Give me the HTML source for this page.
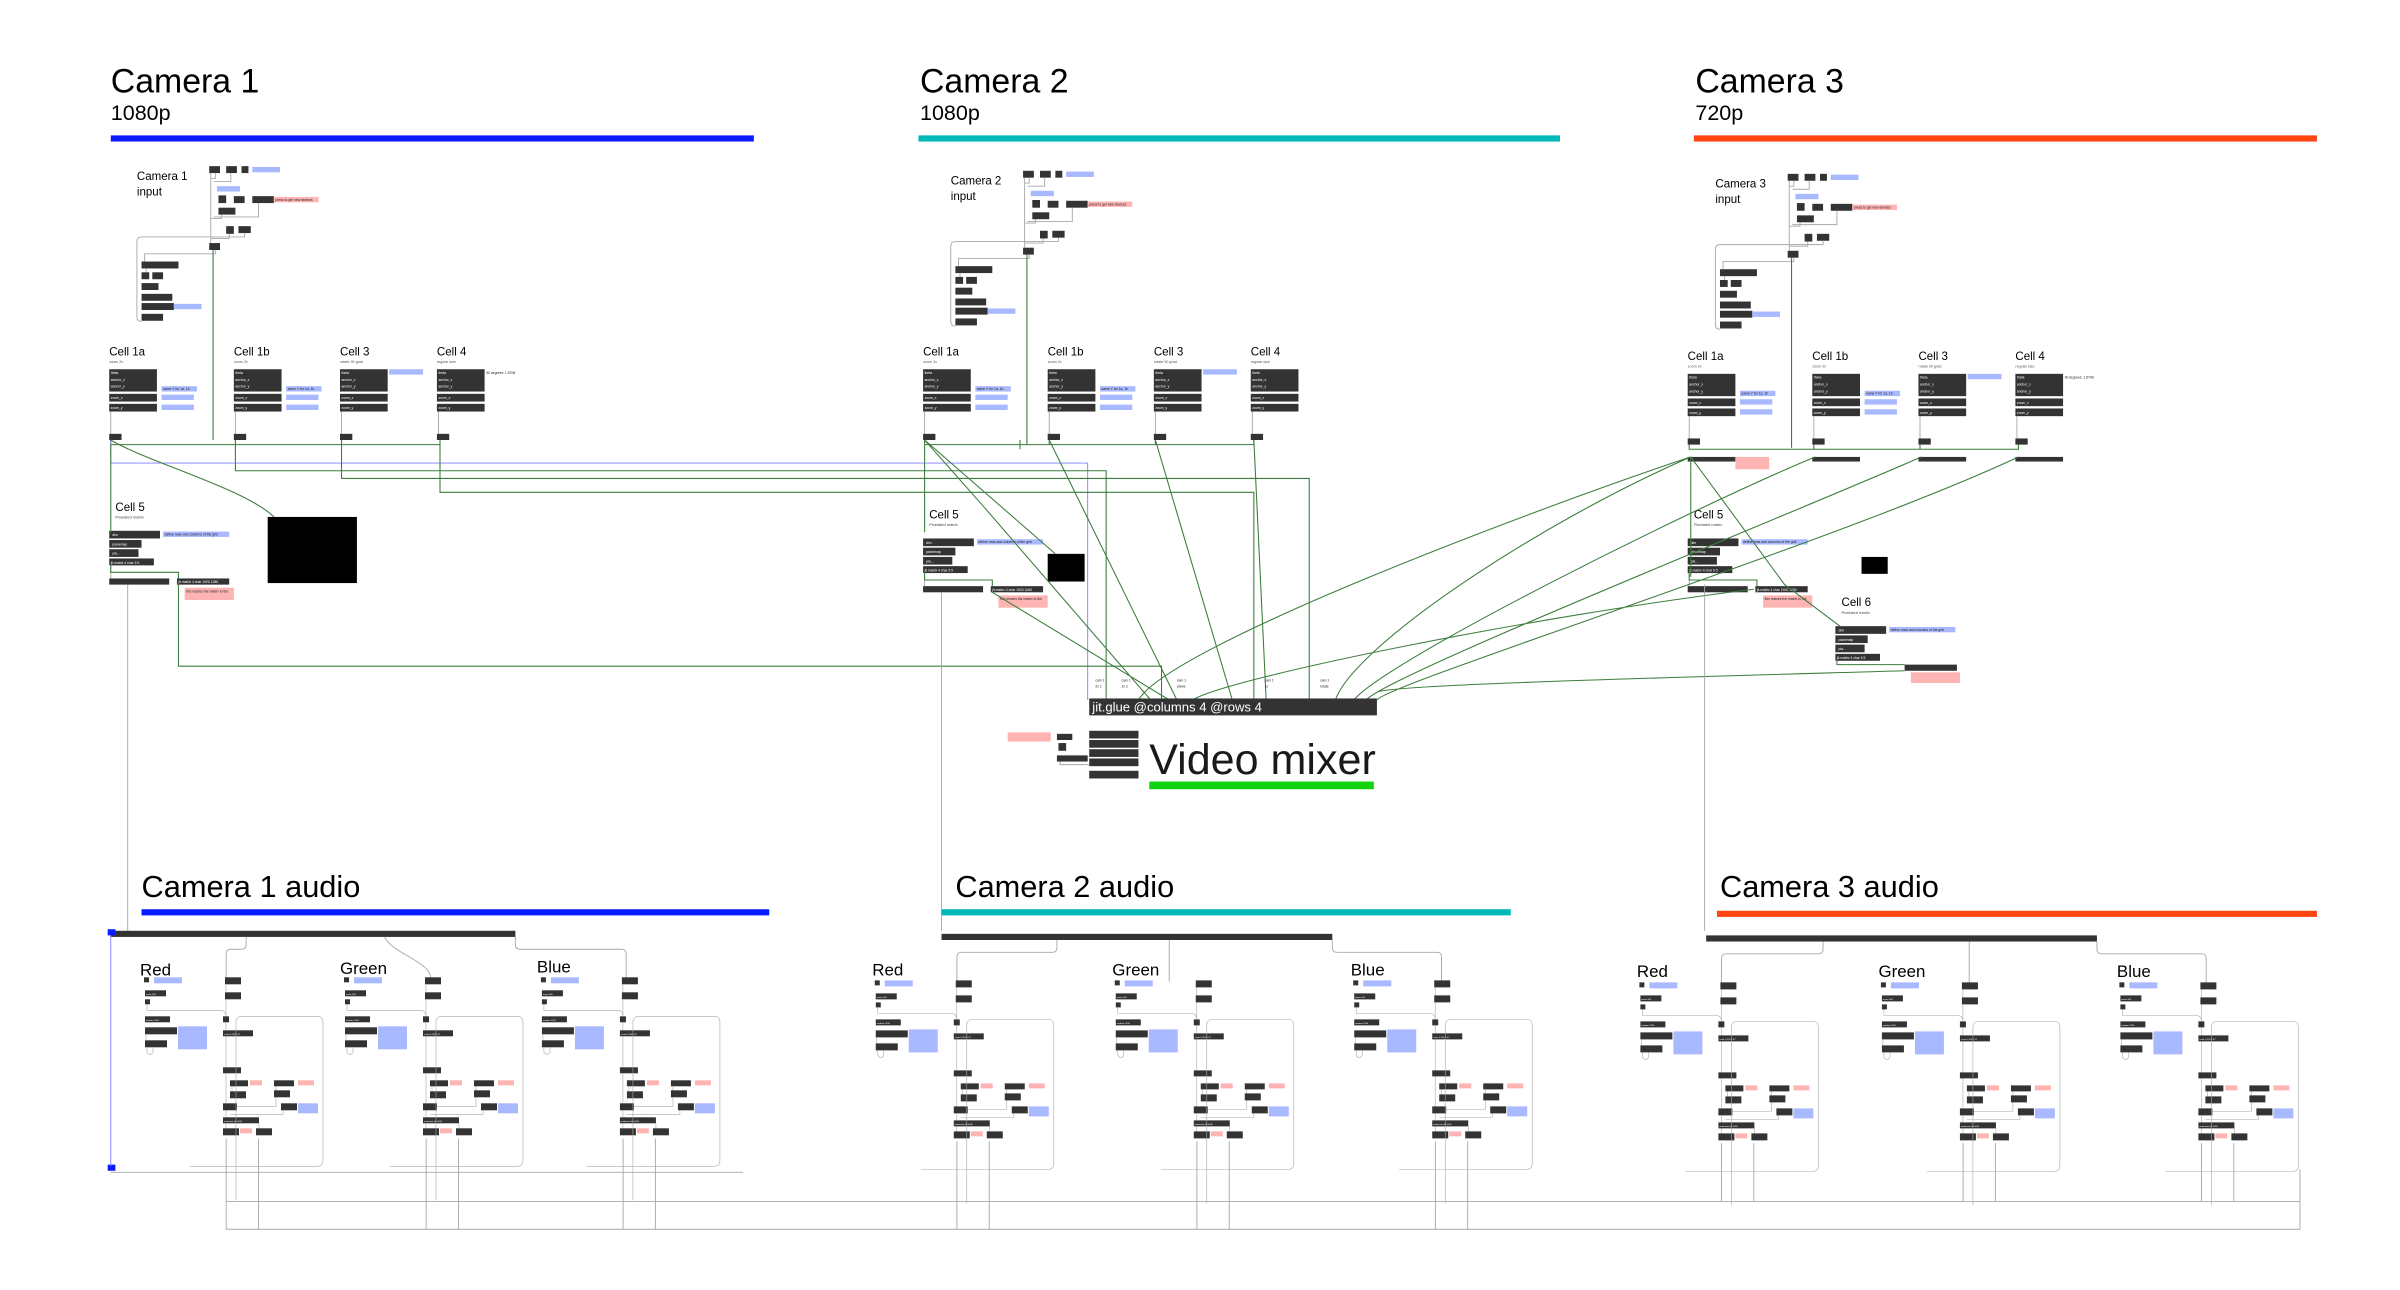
<!DOCTYPE html>
<html><head><meta charset="utf-8"><style>
html,body{margin:0;padding:0;background:#fff;width:2400px;height:1290px;overflow:hidden}
svg{display:block}
text{font-family:"Liberation Sans",sans-serif}
.d{fill:#333}
.b{fill:#a9b9ff}
.p{fill:#ffb4b4}
.w{fill:#fff;font-size:2.2px}
.t{fill:#222;font-size:2.2px}
.g{fill:none;stroke:#3d7d3d;stroke-width:0.7}
.gr{fill:none;stroke:#a8a8a8;stroke-width:0.6}
.bl{fill:none;stroke:#7f7fff;stroke-width:0.6}
</style></head><body>
<svg width="2400" height="1290" viewBox="0 0 1560 838.5" xmlns="http://www.w3.org/2000/svg">
<defs>
<g id="cellA">
 <rect class="d" x="0" y="9" width="31" height="14.5"/>
 <rect class="d" x="0" y="25" width="31" height="5"/>
 <rect class="d" x="0" y="31.5" width="31" height="5"/>
 <text class="w" x="1" y="12">theta</text><text class="w" x="1" y="16.5">anchor_x</text><text class="w" x="1" y="21">anchor_y</text>
 <text class="w" x="1" y="28.5">zoom_x</text><text class="w" x="1" y="35">zoom_y</text>
 <rect class="b" x="34" y="20" width="23" height="3.5"/><rect class="b" x="34" y="25.5" width="21" height="3.5"/><rect class="b" x="34" y="32" width="21" height="3.5"/>
 <text class="t" x="35" y="22.5">same Y for 1a, 1b</text>
 <path class="gr" d="M1,36.5V51"/>
 <rect class="d" x="0" y="51" width="8" height="4"/>
</g>
<g id="cellB">
 <rect class="d" x="0" y="9" width="31" height="14.5"/>
 <rect class="d" x="0" y="25" width="31" height="5"/>
 <rect class="d" x="0" y="31.5" width="31" height="5"/>
 <text class="w" x="1" y="12">theta</text><text class="w" x="1" y="16.5">anchor_x</text><text class="w" x="1" y="21">anchor_y</text>
 <text class="w" x="1" y="28.5">zoom_x</text><text class="w" x="1" y="35">zoom_y</text>
 <path class="gr" d="M1,36.5V51"/>
 <rect class="d" x="0" y="51" width="8" height="4"/>
</g>
<g id="input">
 <rect class="d" x="136" y="108" width="7" height="4.5"/><rect class="d" x="147" y="108" width="7" height="4.5"/><rect class="d" x="157" y="108" width="4.5" height="4.5"/>
 <rect class="b" x="164" y="108.5" width="18" height="3.5"/>
 <rect class="b" x="141" y="121" width="15" height="3.5"/>
 <rect class="d" x="142" y="127" width="5" height="5"/><rect class="d" x="152" y="127.5" width="7" height="4.5"/><rect class="d" x="164" y="127.5" width="14" height="4.5"/><rect class="p" x="178" y="128" width="29" height="3.5"/>
 <text class="t" x="179" y="130.5">press to get new devices</text>
 <rect class="d" x="142" y="135" width="11" height="4.5"/>
 <rect class="d" x="147" y="147" width="5" height="5"/><rect class="d" x="155" y="147" width="8" height="4.5"/>
 <rect class="d" x="136" y="158" width="7" height="4.5"/>
 <rect class="d" x="92" y="170" width="24" height="4.5"/><rect class="d" x="92" y="177" width="5" height="4.5"/><rect class="d" x="99" y="177" width="7" height="4.5"/>
 <rect class="d" x="92" y="184" width="11" height="4.5"/><rect class="d" x="92" y="191" width="20" height="4.5"/>
 <rect class="d" x="92" y="197" width="21" height="4.5"/><rect class="b" x="113" y="197.5" width="18" height="3.5"/>
 <rect class="d" x="92" y="204" width="14" height="4.5"/>
 <path class="gr" d="M137,112.5V158 M140,112.5V116 H137 M150,112.5V118 H139 M144,139.5V142H137 M168,132V141H139 M149,152V155H137 M159,151.5V154H92 Q89,154 89,157V206 Q89,209 92,209 M140,162.5V165H94V170 M95,174.5V177"/>
 <path class="g" d="M138.5,162.5V286"/>
</g>
<g id="cell5top">
 <text x="0" y="5" font-size="2.6" fill="#444">Pixelated matrix</text>
 <rect class="d" x="-4" y="13" width="33" height="5"/><rect class="d" x="-4" y="19" width="21" height="5"/><rect class="d" x="-4" y="25" width="19" height="5"/><rect class="d" x="-4" y="31" width="29" height="4.5"/>
 <text class="w" x="-2" y="16.5">dim</text><text class="w" x="-2" y="22.5">planemap</text><text class="w" x="-2" y="28.5">pla...</text><text class="w" x="-3" y="34.5">jit.matrix 4 char 5 5</text>
 <rect class="b" x="31" y="13.5" width="43" height="3.5"/>
 <text class="t" x="32" y="16">define rows and columns of the grid</text>
</g>
<g id="cell5">
 <use href="#cell5top"/>
 <rect class="d" x="-4" y="44" width="39" height="4"/>
 <rect class="d" x="40" y="44" width="34" height="4"/>
 <text class="w" x="41" y="47">jit.matrix 4 char 1920 1080</text>
 <rect class="p" x="45" y="50" width="32" height="8"/>
 <text class="t" x="46" y="53">this resizes the matrix to the</text>
 <path class="gr" d="M-3,35.5V44"/>
 <path class="g" d="M-3,35.5V40H41V44"/>
</g>
<g id="am">
 <rect class="d" x="14" y="27" width="5" height="5"/><rect class="b" x="24" y="27" width="28" height="6"/>
 <rect class="d" x="15" y="40" width="21" height="6"/><rect class="d" x="15" y="49" width="5" height="5"/>
 <rect class="d" x="15" y="66" width="25" height="6"/><rect class="d" x="15" y="77" width="32" height="7"/>
 <rect class="b" x="48" y="76" width="29" height="23"/><rect class="d" x="15" y="90" width="22" height="7"/>
 <rect class="d" x="95" y="27" width="16" height="7"/><rect class="d" x="95" y="42" width="16" height="7"/>
 <rect class="d" x="93" y="66" width="6" height="6"/><rect class="d" x="93" y="80" width="30" height="6"/>
 <rect class="d" x="93" y="117" width="18" height="6"/>
 <rect class="d" x="100" y="130" width="18" height="6"/><rect class="p" x="120" y="130" width="12" height="5"/>
 <rect class="d" x="100" y="141" width="16" height="7"/>
 <rect class="d" x="144" y="130" width="20" height="6"/><rect class="p" x="168" y="130" width="16" height="5"/>
 <rect class="d" x="144" y="140" width="16" height="7"/><rect class="d" x="151" y="153" width="16" height="7"/>
 <rect class="b" x="168" y="153" width="20" height="10"/>
 <rect class="d" x="93" y="153" width="14" height="7"/><rect class="d" x="93" y="167" width="36" height="6"/>
 <rect class="d" x="93" y="178" width="16" height="7"/><rect class="p" x="110" y="178" width="12" height="5"/><rect class="d" x="126" y="178" width="16" height="7"/>
 <text class="w" x="16" y="44.5" font-size="3.5">metro 500</text><text class="w" x="16" y="70.5" font-size="3.5">random 1200</text>
 <text class="w" x="94" y="84.5" font-size="3.5">scale 0 255 0 37</text><text class="w" x="94" y="171.5" font-size="3.5">makenote 60 4000</text>
 <path class="gr" d="M106,250V72Q106,66 112,66H187Q193,66 193,72V210Q193,216 187,216H60 M17,54V60H90Q96,60 96,66 M96,34V42 M96,49V66 M96,72V80 M96,86V117 M96,123V153 M96,160V167 M96,173V178 M129,173V178 M16,84V90 M146,136V140 M146,147V156H107 M102,136V141 M153,160V164H100 M17,97V102Q20,106 23,102V97"/>
</g>
</defs>

<!-- Titles -->
<text x="72" y="60" font-size="22">Camera  1</text><text x="72" y="78" font-size="14">1080p</text>
<rect x="72" y="88" width="418" height="4" fill="#0a1cff"/>
<text x="598" y="60" font-size="22">Camera  2</text><text x="598" y="78" font-size="14">1080p</text>
<rect x="597" y="88" width="417" height="4" fill="#00b8b8"/>
<text x="1102" y="60" font-size="22">Camera  3</text><text x="1102" y="78" font-size="14">720p</text>
<rect x="1101" y="88" width="405" height="4" fill="#ff4510"/>

<!-- inputs -->
<use href="#input"/>
<use href="#input" transform="translate(529,3)"/>
<use href="#input" transform="translate(1026,5)"/>
<text x="89" y="117" font-size="7.5">Camera 1</text><text x="89" y="127" font-size="7.5">input</text>
<text x="618" y="120" font-size="7.5">Camera 2</text><text x="618" y="130" font-size="7.5">input</text>
<text x="1115" y="122" font-size="7.5">Camera 3</text><text x="1115" y="132" font-size="7.5">input</text>

<!-- cells -->
<g>
 <text x="71" y="231" font-size="7.5">Cell 1a</text><text x="71" y="236" font-size="2.4" fill="#555">zoom 2x</text><use href="#cellA" transform="translate(71,231)"/>
 <text x="152" y="231" font-size="7.5">Cell 1b</text><text x="152" y="236" font-size="2.4" fill="#555">zoom 2x</text><use href="#cellA" transform="translate(152,231)"/>
 <text x="221" y="231" font-size="7.5">Cell 3</text><text x="221" y="236" font-size="2.4" fill="#555">rotate 90 grad</text><use href="#cellB" transform="translate(221,231)"/>
 <rect class="b" x="253" y="240" width="22" height="3.5"/>
 <text x="284" y="231" font-size="7.5">Cell 4</text><text x="284" y="236" font-size="2.4" fill="#555">regular size</text><use href="#cellB" transform="translate(284,231)"/>
 <text class="t" x="316" y="243">90 degrees: 1.5708</text>
 <path class="g" d="M72,286V289H286V286 M153,286V289 M222,286V289"/>
</g>
<g transform="translate(529,0)">
 <text x="71" y="231" font-size="7.5">Cell 1a</text><text x="71" y="236" font-size="2.4" fill="#555">zoom 2x</text><use href="#cellA" transform="translate(71,231)"/>
 <text x="152" y="231" font-size="7.5">Cell 1b</text><text x="152" y="236" font-size="2.4" fill="#555">zoom 2x</text><use href="#cellA" transform="translate(152,231)"/>
 <text x="221" y="231" font-size="7.5">Cell 3</text><text x="221" y="236" font-size="2.4" fill="#555">rotate 90 grad</text><use href="#cellB" transform="translate(221,231)"/>
 <rect class="b" x="253" y="240" width="22" height="3.5"/>
 <text x="284" y="231" font-size="7.5">Cell 4</text><text x="284" y="236" font-size="2.4" fill="#555">regular size</text><use href="#cellB" transform="translate(284,231)"/>
 <path class="g" d="M72,286V289H286V286 M153,286V289 M222,286V289"/>
</g>
<g transform="translate(1026,3)">
 <text x="71" y="231" font-size="7.5">Cell 1a</text><text x="71" y="236" font-size="2.4" fill="#555">zoom 2x</text><use href="#cellA" transform="translate(71,231)"/>
 <text x="152" y="231" font-size="7.5">Cell 1b</text><text x="152" y="236" font-size="2.4" fill="#555">zoom 2x</text><use href="#cellA" transform="translate(152,231)"/>
 <text x="221" y="231" font-size="7.5">Cell 3</text><text x="221" y="236" font-size="2.4" fill="#555">rotate 90 grad</text><use href="#cellB" transform="translate(221,231)"/>
 <rect class="b" x="253" y="240" width="22" height="3.5"/>
 <text x="284" y="231" font-size="7.5">Cell 4</text><text x="284" y="236" font-size="2.4" fill="#555">regular size</text><use href="#cellB" transform="translate(284,231)"/>
 <text class="t" x="316" y="243">90 degrees: 1.5708</text>
 <path class="g" d="M72,286V289H286V286 M153,286V289 M222,286V289"/>
 <rect class="d" x="71" y="294" width="31" height="3"/><rect class="d" x="152" y="294" width="31" height="3"/><rect class="d" x="221" y="294" width="31" height="3"/><rect class="d" x="284" y="294" width="31" height="3"/>
 <rect class="p" x="102" y="294" width="22" height="8"/>
</g>

<!-- cell 5s -->
<text x="75" y="332" font-size="7.5">Cell 5</text><use href="#cell5" transform="translate(75,332)"/>
<rect x="174" y="336" width="58" height="43" fill="#000"/>
<text x="604" y="337" font-size="7.5">Cell 5</text><use href="#cell5" transform="translate(604,337)"/>
<rect x="681" y="360" width="24" height="18" fill="#000"/>
<text x="1101" y="337" font-size="7.5">Cell 5</text><use href="#cell5" transform="translate(1101,337)"/>
<rect x="1210" y="362" width="17" height="11" fill="#000"/>
<text x="1197" y="394" font-size="7.5">Cell 6</text><use href="#cell5top" transform="translate(1197,394)"/>
<rect class="d" x="1238" y="432" width="34" height="4"/><rect class="p" x="1242" y="437" width="32" height="7"/>
<path class="g" d="M1194,429.5V432H1238"/>

<!-- cam1 connections -->
<path class="bl" d="M72,286V301H707V455"/>
<path class="g" d="M153,289V306H719V455 M222,289V311H851V455 M286,289V320H815V455 M116,380V433H755V455 M72,289V346 M72,286C95,300 160,318 178,336"/>
<path class="gr" d="M83,380V605"/>
<!-- cam2 connections -->
<path class="g" d="M601,286L640,330L748,455 M682,286L765,455 M751,286L801,455 M815,286L823,455 M645,385L760,455 M663,292V286 M601,289V346 M601,286L686,360"/>
<path class="gr" d="M612,385V605"/>
<!-- cam3 connections -->
<path class="g" d="M1099,297C1000,340 880,420 868,455 M1180,297C1100,330 900,430 880,455 M1249,297C1150,340 900,440 888,455 M1312,297C1200,350 900,445 895,455 M1099,297C1000,330 760,420 740,455 M1099,297L1160,380L1196,407 M1140,383C1000,400 800,440 775,455 M1238,436C1100,440 900,445 895,450 M1099,297V375"/>
<path class="gr" d="M1108,380V605"/>

<!-- glue -->
<rect class="d" x="708" y="454" width="187" height="11"/>
<text x="710" y="462.5" font-size="8.5" fill="#fff">jit.glue @columns 4 @rows 4</text>
<text class="t" x="712" y="443">cam 1</text><text class="t" x="712" y="447">2x 1</text>
<text class="t" x="729" y="443">cam 1</text><text class="t" x="729" y="447">2x 2</text>
<text class="t" x="765" y="443">cam 1</text><text class="t" x="765" y="447">pixels</text>
<text class="t" x="822" y="443">cam 1</text><text class="t" x="822" y="447">1x</text>
<text class="t" x="858" y="443">cam 1</text><text class="t" x="858" y="447">rotate</text>
<rect class="p" x="655" y="476" width="28" height="6"/>
<rect class="d" x="687" y="477" width="10" height="4"/><rect class="d" x="688" y="483" width="5" height="5"/><rect class="d" x="687" y="491" width="20" height="4"/>
<rect class="d" x="708" y="475" width="32" height="5"/><rect class="d" x="708" y="481" width="32" height="5"/><rect class="d" x="708" y="487" width="32" height="5"/><rect class="d" x="708" y="493" width="32" height="5"/>
<rect class="d" x="708" y="501" width="32" height="5"/>
<path class="gr" d="M689,495V497H708"/>
<text x="747" y="503" font-size="28" fill="#1a1a1a">Video mixer</text>
<rect x="747" y="508" width="146" height="5" fill="#11d411"/>

<!-- audio titles -->
<text x="92" y="583" font-size="20">Camera 1 audio</text><rect x="92" y="591" width="408" height="4" fill="#0a1cff"/>
<text x="621" y="583" font-size="20">Camera 2 audio</text><rect x="612" y="591" width="370" height="4" fill="#00b8b8"/>
<text x="1118" y="583" font-size="20">Camera 3 audio</text><rect x="1116" y="592" width="390" height="4" fill="#ff4510"/>

<!-- unpack -->
<rect class="d" x="72" y="605" width="263" height="4"/><rect class="d" x="612" y="607" width="254" height="4"/><rect class="d" x="1109" y="608" width="254" height="4"/>
<rect x="70" y="604" width="5" height="4" fill="#0a1cff"/><rect x="70" y="757" width="5" height="4" fill="#0a1cff"/>
<path class="bl" d="M72,608V758"/>
<path class="gr" d="M72,762H483 M160,609V614Q160,617 157,617H150Q147,617 147,620V636 M250,609C255,620 280,625 280,636 M335,609V614Q335,617 338,617H404Q407,617 407,620V636
M687,611V616Q687,619 684,619H625Q622,619 622,622V638 M760,611V638 M866,611V616Q866,619 869,619H934Q937,619 937,622V638
M1185,612V617Q1185,620 1182,620H1122Q1119,620 1119,623V640 M1280,612V640 M1363,612V617Q1363,620 1366,620H1431Q1434,620 1434,623V640
M147,781H1495 M147,799H1495 M1495,799V760"/>

<!-- audio modules -->
<text x="91" y="634" font-size="11">Red</text><use href="#am" transform="translate(84.5,617.7) scale(0.65)"/>
<text x="221" y="633" font-size="11">Green</text><use href="#am" transform="translate(214.5,617.7) scale(0.65)"/>
<text x="349" y="632" font-size="11">Blue</text><use href="#am" transform="translate(342.5,617.7) scale(0.65)"/>
<text x="567" y="634" font-size="11">Red</text><use href="#am" transform="translate(559.5,619.7) scale(0.65)"/>
<text x="723" y="634" font-size="11">Green</text><use href="#am" transform="translate(715.5,619.7) scale(0.65)"/>
<text x="878" y="634" font-size="11">Blue</text><use href="#am" transform="translate(870.5,619.7) scale(0.65)"/>
<text x="1064" y="635" font-size="11">Red</text><use href="#am" transform="translate(1056.5,621) scale(0.65)"/>
<text x="1221" y="635" font-size="11">Green</text><use href="#am" transform="translate(1213.5,621) scale(0.65)"/>
<text x="1376" y="635" font-size="11">Blue</text><use href="#am" transform="translate(1368.5,621) scale(0.65)"/>
<path class="gr" d="M147,740V799 M168,740V799 M277,740V799 M298,740V799 M405,740V799 M426,740V799 M622,742V799 M643,742V799 M778,742V799 M799,742V799 M933,742V799 M954,742V799 M1119,743V781 M1140,743V781 M1276,743V781 M1297,743V781 M1431,743V781 M1452,743V781"/>
</svg>
</body></html>
